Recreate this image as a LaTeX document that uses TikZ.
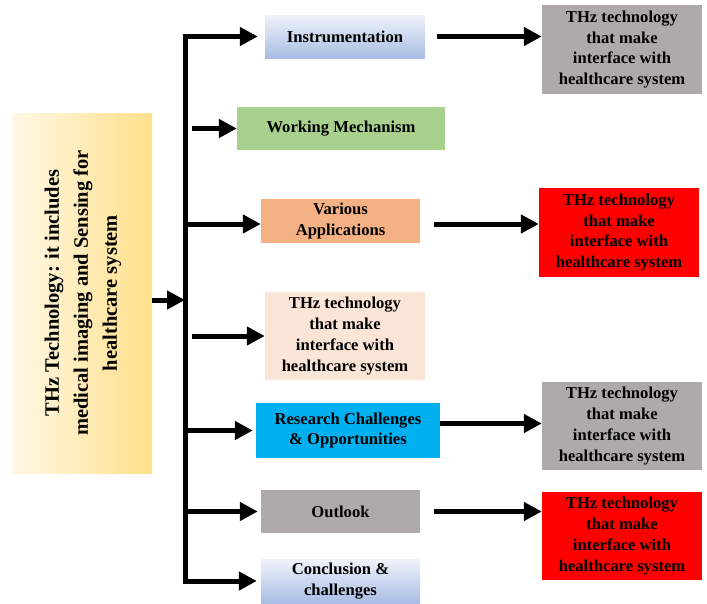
\documentclass[tikz,border=0pt]{standalone}
\usepackage{fontspec}
\setmainfont{Liberation Serif}
\usetikzlibrary{arrows.meta}
\definecolor{cpeach}{HTML}{FBE5D6}
\definecolor{corange}{HTML}{F4B183}
\definecolor{cgreen}{HTML}{A9D18E}
\definecolor{cblue}{HTML}{00B0F0}
\definecolor{cgray}{HTML}{AEAAAA}
\definecolor{cred}{HTML}{FF0000}
\definecolor{ctopblue}{HTML}{F0F3FA}
\definecolor{cbotblue}{HTML}{A8BDE4}
\definecolor{cyl}{HTML}{FFF8E6}
\definecolor{cyr}{HTML}{FFE08A}
\begin{document}
\begin{tikzpicture}[x=1pt,y=-1pt,
  box/.style={rectangle, inner sep=0pt, align=center,
    font=\fontsize{16.6}{20.8}\selectfont\bfseries, text=black},
  bluegrad/.style={top color=ctopblue, bottom color=cbotblue},
  arr/.style={line width=5pt, line join=miter, -{Triangle[length=18pt,width=18pt]}},
  arrboth/.style={line width=5pt, line join=miter, {Triangle[length=18pt,width=18pt]}-{Triangle[length=18pt,width=18pt]}}
]
\useasboundingbox (0,0) rectangle (707,603);

% main left box
\node[box, left color=cyl, right color=cyr, minimum width=140pt, minimum height=360pt] (main) at (82,293) {};
\node[rotate=90, align=center, inner sep=0pt, font=\fontsize{20.5}{29}\selectfont\bfseries] (maintext) at ([xshift=1pt]main.center)
  {THz Technology: it includes\\medical imaging and Sensing for\\healthcare system};

% middle column
\node[box, bluegrad, minimum width=160pt, minimum height=43pt] (instr) at (345,36.5) {Instrumentation};
\node[box, fill=cgreen, minimum width=208pt, minimum height=43pt] (wm) at (341,128.5) {Working Mechanism};
\node[box, fill=corange, minimum width=159pt, minimum height=44pt] (var) at (340.5,221) {Various\\Applications};
\node[box, fill=cpeach, minimum width=160pt, minimum height=88pt] (thz) at (345,336) {THz technology\\that make\\interface with\\healthcare system};
\node[box, fill=cblue, minimum width=184pt, minimum height=55pt] (res) at (348,430.5) {Research Challenges\\\& Opportunities};
\node[box, fill=cgray, minimum width=159pt, minimum height=43pt] (out) at (340.5,511.5) {Outlook};
\node[box, bluegrad, minimum width=159pt, minimum height=44pt] (concl) at (340.5,581) {Conclusion \&\\challenges};

% right column
\node[box, fill=cgray, minimum width=160pt, minimum height=89pt] (g1) at (622,49.5) {THz technology\\that make\\interface with\\healthcare system};
\node[box, fill=cred, minimum width=160pt, minimum height=89pt] (r1) at (619,232.5) {THz technology\\that make\\interface with\\healthcare system};
\node[box, fill=cgray, minimum width=160pt, minimum height=88pt] (g2) at (622,426) {THz technology\\that make\\interface with\\healthcare system};
\node[box, fill=cred, minimum width=160pt, minimum height=88pt] (r2) at (622,536) {THz technology\\that make\\interface with\\healthcare system};

% bus
\coordinate (bus) at (185,0);
\draw[arrboth, shorten >=7pt, shorten <=4pt] (concl.west) -- (concl.west -| bus) -- (instr.west -| bus) -- (instr.west);
\draw[arr] ([yshift=-3pt]var.west -| bus) -- ([yshift=-3pt]var.west);
\draw[arr, shorten >=3pt] (res.west -| bus) -- (res.west);
\draw[arr, shorten >=3pt] (out.west -| bus) -- (out.west);

% unconnected arrows
\coordinate (wmS) at (192,128.5);
\coordinate (thzS) at (192,336);
\draw[arr] (wmS) -- (wm.west);
\draw[arr] (thzS) -- (thz.west);

% input arrow
\draw[arr] (main.east |- 0,300) -- (bus |- 0,300);

% right arrows
\draw[arr, shorten <=12pt] (instr.east) -- (instr.east -| g1.west);
\draw[arr, shorten <=14pt] ([yshift=-3pt]var.east) -- ([yshift=-3pt]var.east -| r1.west);
\draw[arr] ([yshift=7pt]res.east) -- ([yshift=7pt]res.east -| g2.west);
\draw[arr, shorten <=14pt] (out.east) -- (out.east -| r2.west);
\end{tikzpicture}
\end{document}
